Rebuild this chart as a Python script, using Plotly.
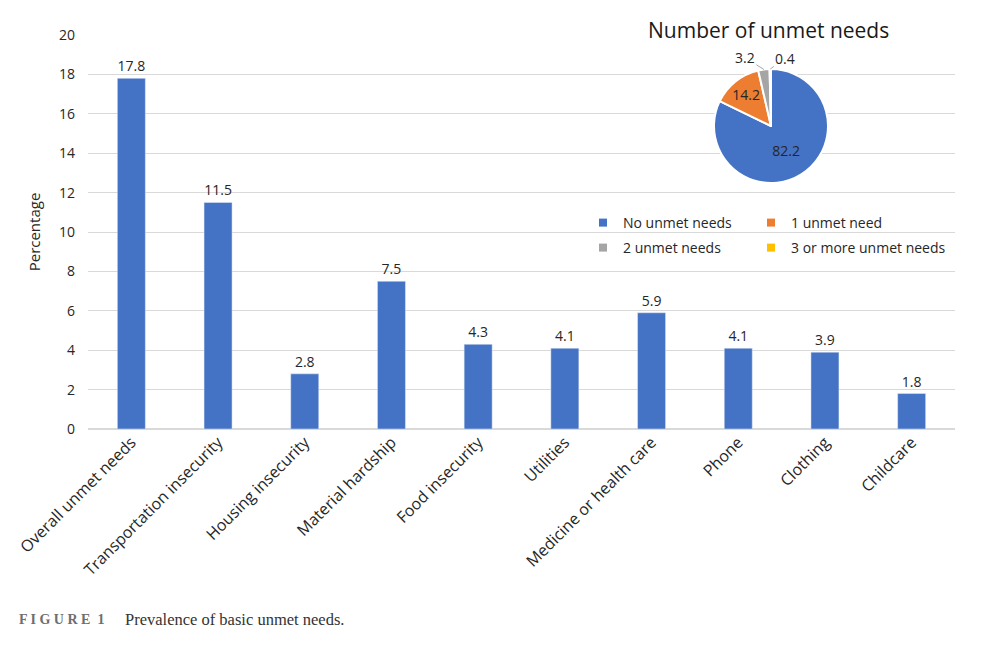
import math
import plotly.graph_objects as go

# bar chart data
categories = ["Overall unmet needs", "Transportation insecurity", "Housing insecurity",
              "Material hardship", "Food insecurity", "Utilities",
              "Medicine or health care", "Phone", "Clothing", "Childcare"]
percentages = [17.8, 11.5, 2.8, 7.5, 4.3, 4.1, 5.9, 4.1, 3.9, 1.8]

# inset pie data
pie_labels = ["No unmet needs", "1 unmet need", "2 unmet needs", "3 or more unmet needs"]
pie_values = [82.2, 14.2, 3.2, 0.4]
pie_colors = ["#4472C4", "#ED7D31", "#A5A5A5", "#FFC000"]

y_ticks = list(range(0, 21, 2))

FONT = "Open Sans"
TXT = "#262626"

# plot area in pixels (figure coords)
W, H = 984, 658
ML, MR, MT, MB = 80, 37, 27, 237
PW, PH = W - ML - MR, H - MT - MB

# pie placement (pixels)
PIE_CX, PIE_CY, PIE_R = 763, 118, 57


def px_to_paper(x, y):
    return (x - ML) / PW, (H - MB - y) / PH


fig = go.Figure()

fig.add_trace(go.Bar(
    x=categories,
    y=percentages,
    marker=dict(color="#4472C4"),
    text=[f"{v:.1f}" for v in percentages],
    textposition="outside",
    textfont=dict(size=14, color=TXT, family=FONT),
    cliponaxis=False,
    showlegend=False,
))

x0, y1 = px_to_paper(PIE_CX - PIE_R, PIE_CY - PIE_R)
x1, y0 = px_to_paper(PIE_CX + PIE_R, PIE_CY + PIE_R)
small = [v < 5 for v in pie_values]
fig.add_trace(go.Pie(
    labels=pie_labels,
    values=pie_values,
    sort=False,
    direction="clockwise",
    marker=dict(colors=pie_colors, line=dict(color="white", width=2)),
    text=["" if s else f"{v:.1f}" for v, s in zip(pie_values, small)],
    textinfo="text",
    textposition="inside",
    insidetextorientation="horizontal",
    textfont=dict(size=14, color=TXT, family=FONT),
    domain=dict(x=[x0, x1], y=[y0, y1]),
    showlegend=False,
))

# outside labels for the thin slices, pointing at the slice middle on the rim
total = sum(pie_values)
offsets = {2: (-19, -12), 3: (15, -11)}
cum = 0
for i, v in enumerate(pie_values):
    mid = (cum + v / 2) / total * 2 * math.pi
    cum += v
    if not small[i]:
        continue
    ex = PIE_CX + PIE_R * math.sin(mid)
    ey = PIE_CY - PIE_R * math.cos(mid)
    ax, ay = offsets[i]
    px, py = px_to_paper(ex, ey)
    fig.add_annotation(x=px, y=py, xref="paper", yref="paper", text=f"{v:.1f}",
                       showarrow=True, arrowhead=0, arrowwidth=1, arrowcolor="#a6a6a6",
                       ax=ax, ay=ay, standoff=0,
                       font=dict(size=14, color=TXT, family=FONT))

# legend: one small legend per entry, arranged two by two
leg_cols = [575, 743]
leg_rows = [215, 240]
legends = {}
for i, (lab, col) in enumerate(zip(pie_labels, pie_colors)):
    key = "legend" if i == 0 else f"legend{i + 1}"
    fig.add_trace(go.Scatter(
        x=[None], y=[None], mode="markers", name=lab,
        marker=dict(symbol="square", size=8, color=col),
        legend=key,
    ))
    lx, ly = px_to_paper(leg_cols[i % 2], leg_rows[i // 2])
    legends[key] = dict(orientation="h", x=lx, y=ly, xanchor="left", yanchor="middle",
                        font=dict(size=14, color=TXT, family=FONT),
                        bgcolor="rgba(0,0,0,0)")

fig.add_annotation(text="Number of unmet needs", xref="paper", yref="paper",
                   x=px_to_paper(760, 0)[0], y=px_to_paper(0, 22)[1],
                   xanchor="center", yanchor="middle",
                   showarrow=False, font=dict(size=21, color="#1a1a1a", family=FONT))

# caption
cap_y = px_to_paper(0, 611)[1]
fig.add_annotation(text="<b>F I G U R E  1</b>", xref="paper", yref="paper",
                   x=px_to_paper(9, 0)[0], y=cap_y, xanchor="left", yanchor="middle",
                   showarrow=False, font=dict(size=14, color="#6e6e6e", family="Liberation Serif"))
fig.add_annotation(text="Prevalence of basic unmet needs.", xref="paper", yref="paper",
                   x=px_to_paper(115, 0)[0], y=cap_y, xanchor="left", yanchor="middle",
                   showarrow=False, font=dict(size=16.5, color="#333333", family="Liberation Serif"))

fig.update_layout(
    width=W,
    height=H,
    margin=dict(l=ML, r=MR, t=MT, b=MB),
    paper_bgcolor="white",
    plot_bgcolor="white",
    font=dict(family=FONT, size=13, color=TXT),
    bargap=0.677,
    **legends,
)

fig.update_xaxes(tickangle=-45, tickfont=dict(size=16, color=TXT), showline=False,
                 ticks="", showgrid=False, automargin=False)
fig.update_yaxes(range=[0, 20], tickvals=y_ticks, tickfont=dict(size=14, color=TXT),
                 showgrid=True, gridcolor="#d9d9d9", gridwidth=1, zeroline=True,
                 zerolinecolor="#d9d9d9", title=dict(text="Percentage", font=dict(size=15, color=TXT),
                 standoff=14), ticks="", ticklabelstandoff=12, automargin=False)

fig.write_html("out.html")
